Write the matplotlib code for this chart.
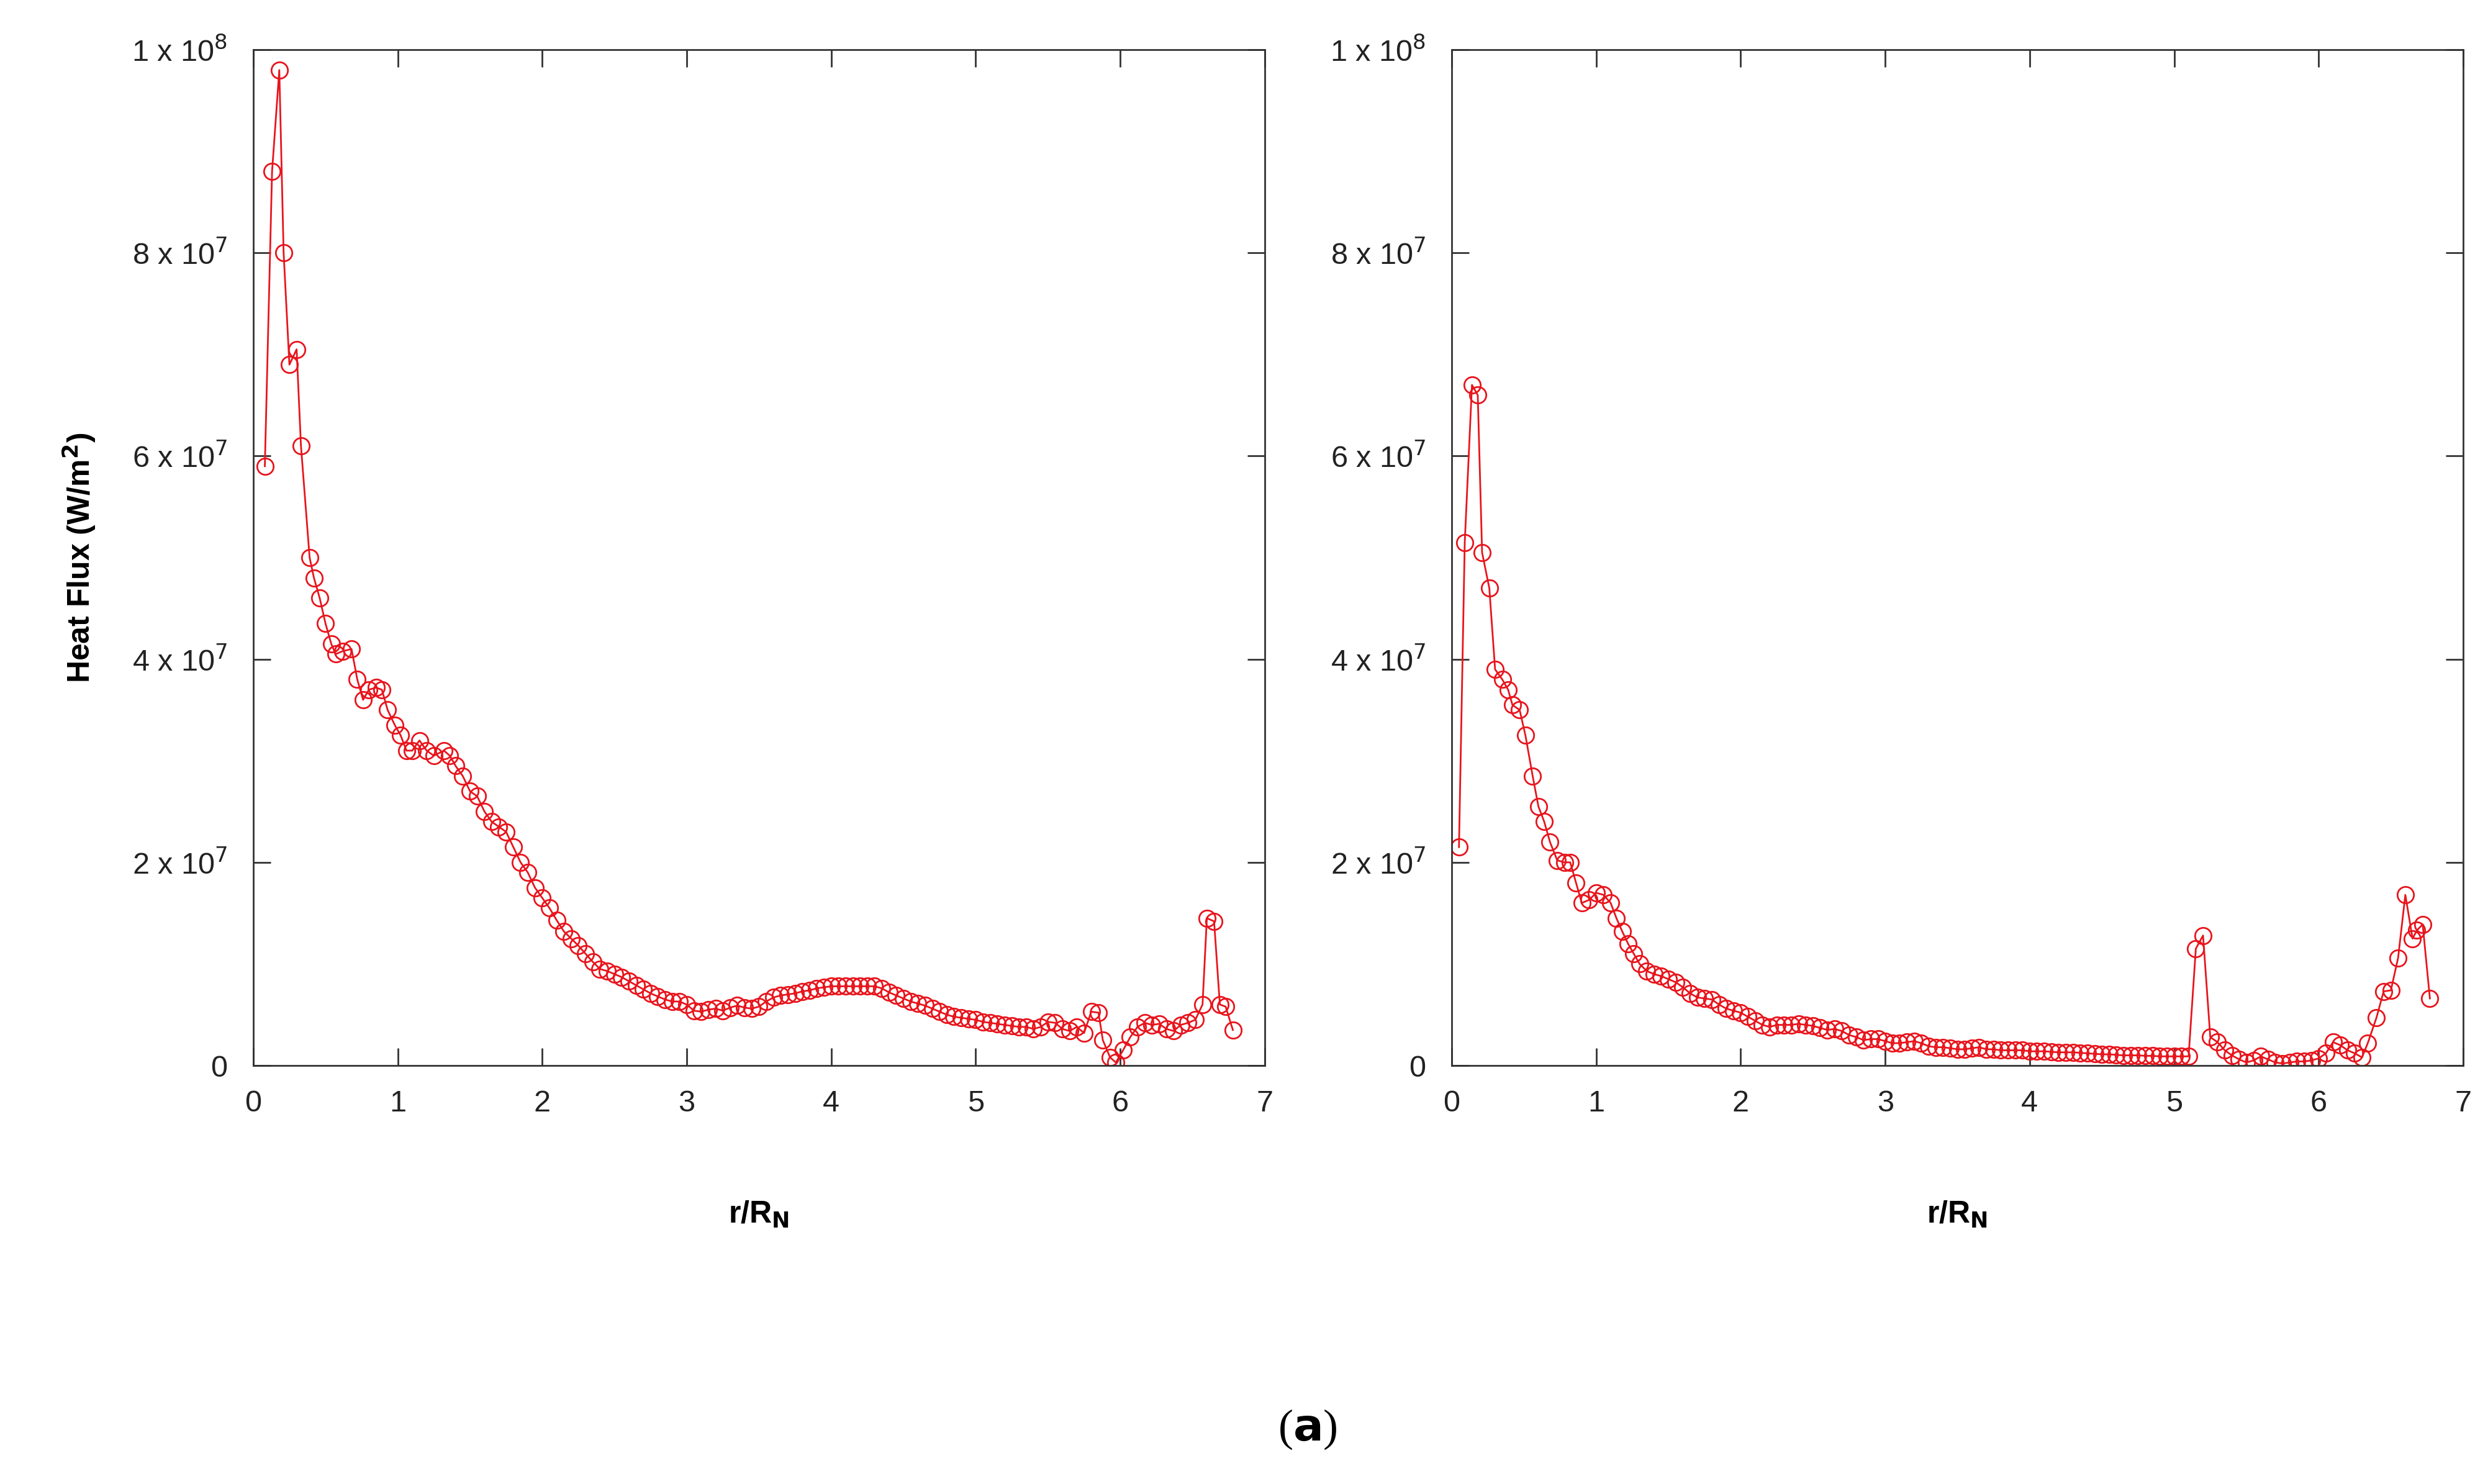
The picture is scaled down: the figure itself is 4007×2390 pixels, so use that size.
import matplotlib
matplotlib.use("Agg")
import matplotlib.pyplot as plt
from matplotlib.ticker import FixedLocator

left_x = [0.08,0.13,0.18,0.21,0.25,0.30,0.33,0.39,0.42,0.46,0.50,0.54,0.57,0.62,0.68,0.72,0.76,0.80,0.85,0.89,
          0.93,0.98,1.02,1.06,1.10,1.15,1.20,1.25,1.32,1.36,1.40,1.45,1.50,1.55,1.60,1.65,1.70,1.75,1.80,1.85,
          1.90,1.95,2.00,2.05,2.10,2.15,2.20,2.25,2.30,2.35,2.40,2.45,2.50,2.55,2.60,2.65,2.70,2.75,2.80,2.85,
          2.90,2.95,3.00,3.05,3.10,3.15,3.20,3.25,3.30,3.35,3.40,3.45,3.50,3.55,3.60,3.65,3.70,3.75,3.80,3.85,
          3.90,3.95,4.00,4.05,4.10,4.15,4.20,4.25,4.30,4.35,4.40,4.45,4.50,4.55,4.60,4.65,4.70,4.75,4.80,4.85,
          4.90,4.95,5.00,5.05,5.10,5.15,5.20,5.25,5.30,5.35,5.40,5.45,5.50,5.55,5.60,5.65,5.70,5.75,5.80,5.85,
          5.88,5.93,5.97,6.02,6.07,6.12,6.17,6.22,6.27,6.32,6.37,6.42,6.47,6.52,6.57,6.60,6.65,6.69,6.73,6.78]
left_y = [59,88,98,80,69,70.5,61,50,48,46,43.5,41.5,40.5,40.8,41,38,36,37,37.2,37,
          35,33.5,32.5,31,31,32,31,30.5,31,30.5,29.5,28.5,27,26.5,25,24,23.5,23,21.5,20,
          19,17.5,16.5,15.5,14.3,13.2,12.5,11.8,11,10.2,9.5,9.3,9,8.7,8.3,7.9,7.5,7.1,6.8,6.5,
          6.3,6.3,6.0,5.4,5.3,5.5,5.6,5.4,5.7,5.9,5.7,5.6,5.8,6.3,6.7,6.9,7.0,7.1,7.3,7.4,
          7.6,7.7,7.8,7.8,7.8,7.8,7.8,7.8,7.8,7.6,7.2,6.9,6.6,6.3,6.1,5.9,5.6,5.3,5.0,4.8,
          4.7,4.6,4.5,4.3,4.2,4.1,4.0,3.9,3.8,3.8,3.6,3.8,4.3,4.2,3.6,3.4,3.8,3.2,5.3,5.2,
          2.5,0.8,0.3,1.5,2.8,3.8,4.2,4.0,4.1,3.6,3.4,4.0,4.2,4.5,6.0,14.5,14.2,6.0,5.8,3.5]

right_x = [0.05,0.09,0.14,0.18,0.21,0.26,0.30,0.35,0.39,0.42,0.47,0.51,0.56,0.60,0.64,0.68,0.73,0.78,0.82,0.86,
           0.90,0.95,1.00,1.05,1.10,1.14,1.18,1.22,1.26,1.30,1.35,1.40,1.45,1.50,1.55,1.60,1.65,1.70,1.75,1.80,
           1.85,1.90,1.95,2.00,2.05,2.10,2.15,2.20,2.25,2.30,2.35,2.40,2.45,2.50,2.55,2.60,2.65,2.70,2.75,2.80,
           2.85,2.90,2.95,3.00,3.05,3.10,3.15,3.20,3.25,3.30,3.35,3.40,3.45,3.50,3.55,3.60,3.65,3.70,3.75,3.80,
           3.85,3.90,3.95,4.00,4.05,4.10,4.15,4.20,4.25,4.30,4.35,4.40,4.45,4.50,4.55,4.60,4.65,4.70,4.75,4.80,
           4.85,4.90,4.95,5.00,5.05,5.10,5.15,5.20,5.25,5.30,5.35,5.40,5.45,5.50,5.55,5.60,5.65,5.70,5.75,5.80,
           5.85,5.90,5.95,6.00,6.05,6.10,6.15,6.20,6.25,6.30,6.34,6.40,6.45,6.50,6.55,6.60,6.65,6.68,6.72,6.77]
right_y = [21.5,51.5,67,66,50.5,47,39,38,37,35.5,35,32.5,28.5,25.5,24,22,20.2,20,20,18,
           16,16.3,17,16.8,16,14.5,13.2,12,11,10,9.3,9,8.8,8.5,8.2,7.7,7.1,6.7,6.6,6.5,
           6.0,5.6,5.4,5.2,4.8,4.4,4.0,3.8,4.0,4.0,4.0,4.1,4.0,3.9,3.7,3.5,3.6,3.4,3.0,2.8,
           2.5,2.6,2.6,2.4,2.2,2.2,2.3,2.4,2.2,1.9,1.8,1.8,1.7,1.6,1.6,1.7,1.8,1.6,1.6,1.5,
           1.5,1.5,1.5,1.4,1.4,1.4,1.35,1.3,1.3,1.3,1.25,1.2,1.15,1.1,1.1,1.05,1.0,1.0,1.0,0.95,
           0.95,0.9,0.9,0.9,0.9,0.9,11.5,12.8,2.8,2.3,1.5,1.0,0.6,0.3,0.5,0.9,0.6,0.3,0.2,0.3,
           0.4,0.4,0.5,0.7,1.2,2.3,2.0,1.5,1.2,0.8,2.2,4.7,7.3,7.4,10.6,16.8,12.5,13.3,13.9,6.6]

yticks = [0, 2e7, 4e7, 6e7, 8e7, 1e8]
ytick_labels = ["0", r"2 x 10$^7$", r"4 x 10$^7$", r"6 x 10$^7$", r"8 x 10$^7$", r"1 x 10$^8$"]
xticks = [0, 1, 2, 3, 4, 5, 6, 7]

plt.rcParams['font.family'] = ['Liberation Sans', 'DejaVu Sans']
fig = plt.figure(figsize=(40.07, 23.90), dpi=100)
ax1 = fig.add_axes([0.1018, 0.282, 0.4065, 0.6845])
ax2 = fig.add_axes([0.5835, 0.282, 0.4065, 0.6845])

for ax, xs, ys in [(ax1, left_x, left_y), (ax2, right_x, right_y)]:
    ax.plot(xs, [v * 1e6 for v in ys], color='#e8141c', lw=2.0, marker='o', ms=19,
            mfc='none', mec='#e8141c', mew=2.0)
    ax.set_xlim(0, 7)
    ax.set_ylim(0, 1e8)
    ax.xaxis.set_major_locator(FixedLocator(xticks))
    ax.set_xticklabels([str(t) for t in xticks])
    ax.set_yticks(yticks)
    ax.set_yticklabels(ytick_labels)
    ax.tick_params(direction='in', length=20, width=2, top=True, right=True,
                   labelsize=35, color='#333333', labelcolor='#222222')
    ax.tick_params(axis='x', pad=28)
    ax.tick_params(axis='y', pad=30)
    for s in ax.spines.values():
        s.set_linewidth(2)
        s.set_color('#333333')
    ax.set_xlabel(r"r/R$_\mathbf{N}$", fontsize=36, fontweight='bold', labelpad=95)

ax1.set_ylabel(r"Heat Flux (W/m$^\mathbf{2}$)", fontsize=36, fontweight='bold', labelpad=40)
fig.text(0.5255, 0.022, r"($\mathbf{a}$)", fontsize=52, family=['Liberation Serif', 'DejaVu Serif'],
         ha='center', va='bottom')

fig.savefig("out.png", dpi=100, facecolor='white')
